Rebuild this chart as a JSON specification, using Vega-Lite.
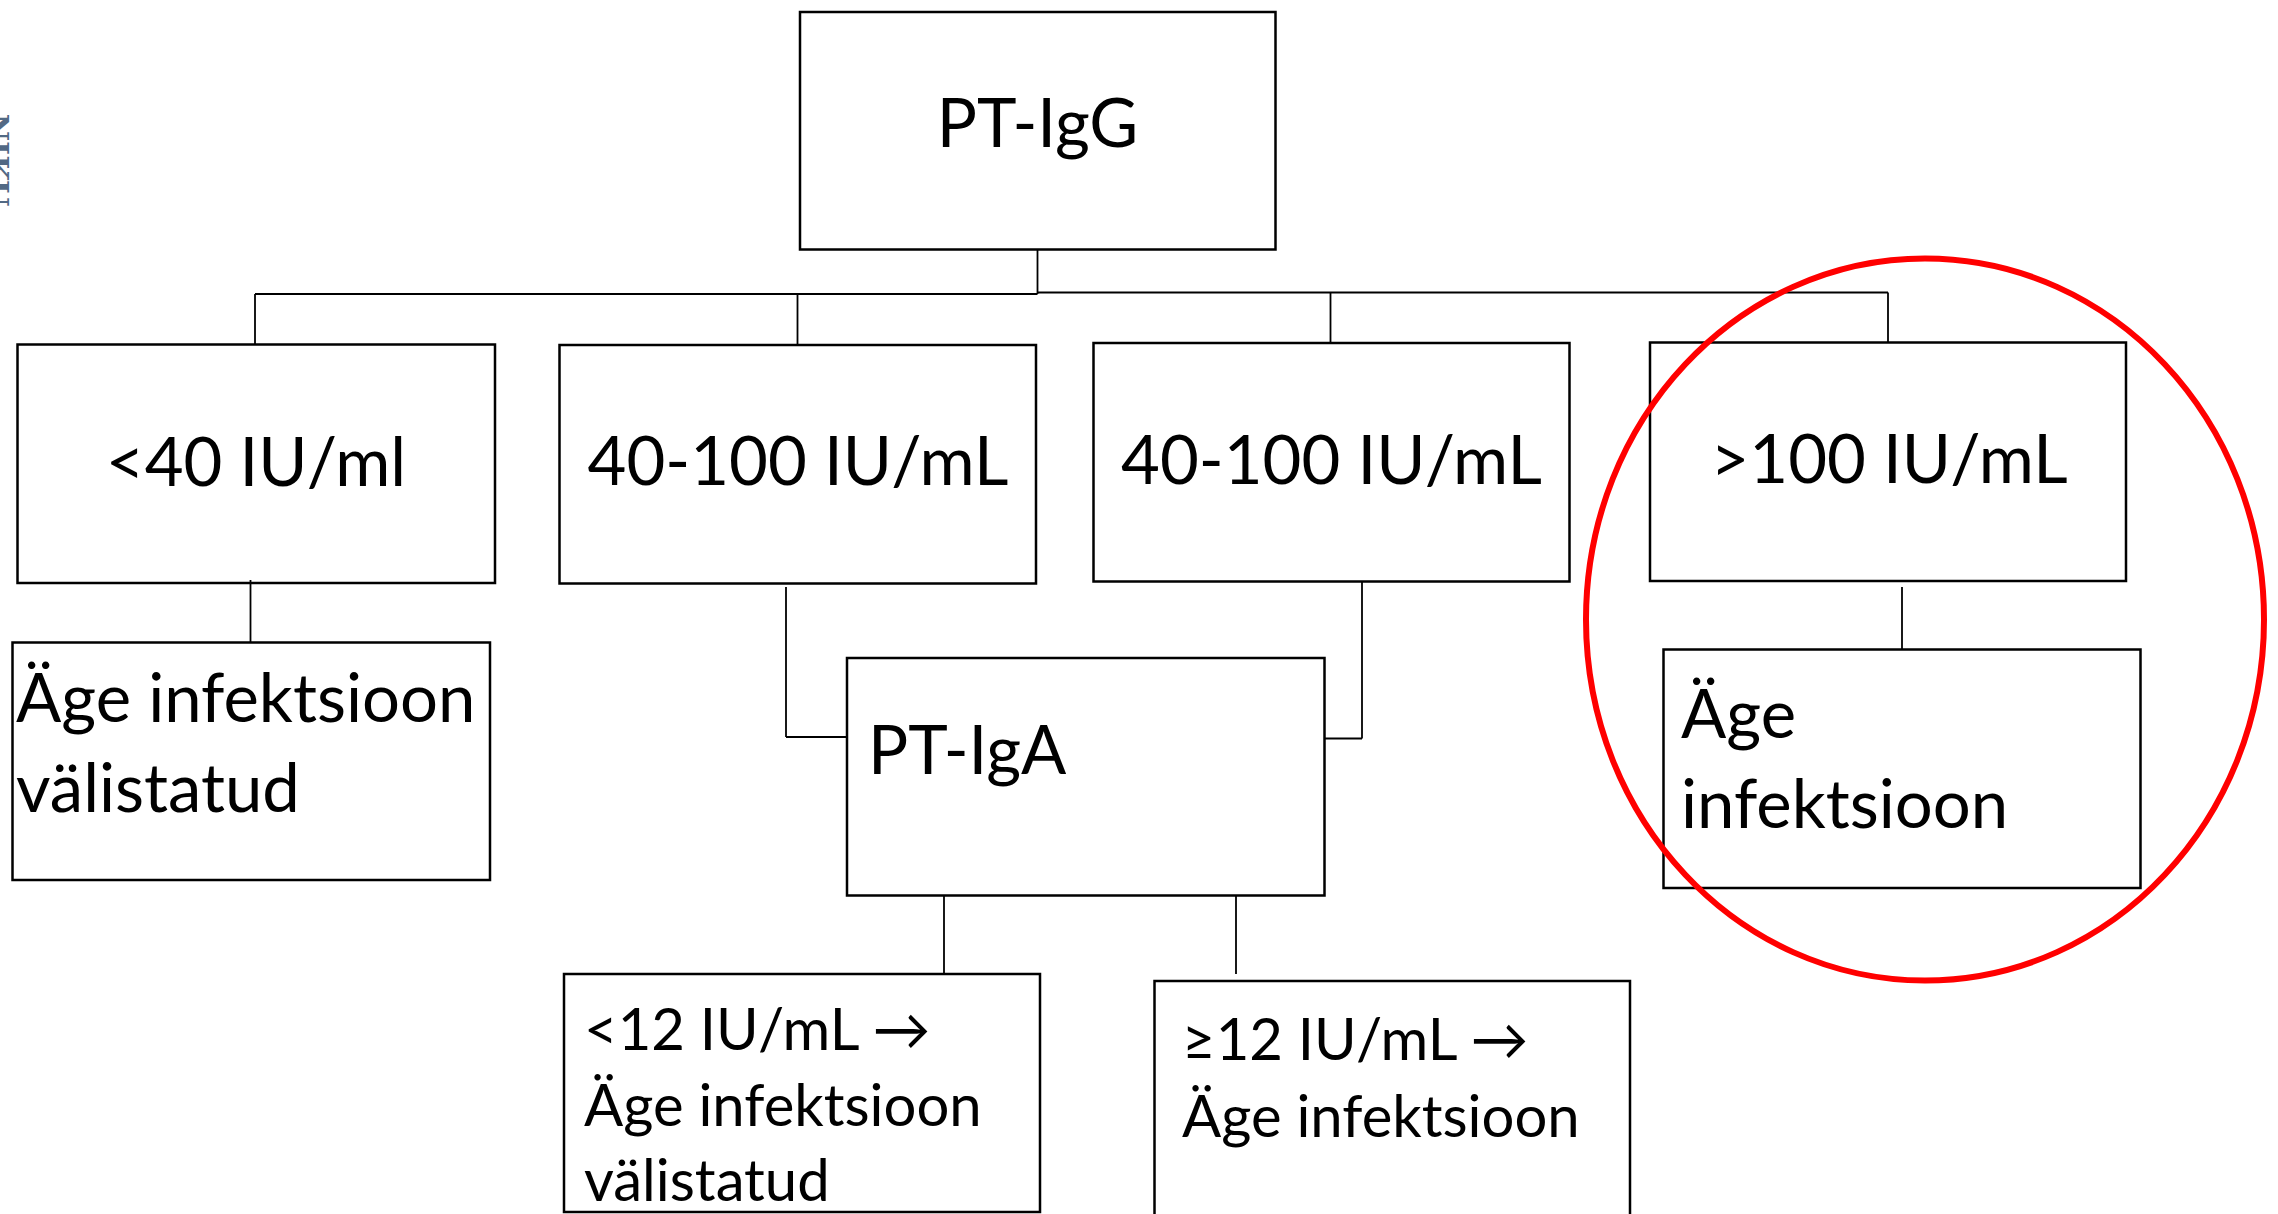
{
  "$schema": "https://vega.github.io/schema/vega-lite/v6.json",
  "width": 2278,
  "height": 1214,
  "padding": 0,
  "autosize": {"type": "none"},
  "background": "#ffffff",
  "config": {"view": {"stroke": null}},
  "datasets": {
    "boxes": [
      {"id": "PT-IgG", "x1": 800, "x2": 1275.5, "y1": 12, "y2": 249.5},
      {"id": "lt40", "x1": 17.5, "x2": 495, "y1": 344.5, "y2": 583},
      {"id": "40-100a", "x1": 559.5, "x2": 1036, "y1": 345, "y2": 583.5},
      {"id": "40-100b", "x1": 1093.5, "x2": 1569.5, "y1": 343, "y2": 581.5},
      {"id": "gt100", "x1": 1650, "x2": 2126, "y1": 342.5, "y2": 581},
      {"id": "excluded1", "x1": 12.5, "x2": 490, "y1": 642.5, "y2": 880},
      {"id": "PT-IgA", "x1": 847, "x2": 1324.5, "y1": 658, "y2": 895.5},
      {"id": "acute1", "x1": 1663.5, "x2": 2140.5, "y1": 649.5, "y2": 888},
      {"id": "lt12", "x1": 564, "x2": 1040, "y1": 974, "y2": 1212},
      {"id": "ge12", "x1": 1154.5, "x2": 1630, "y1": 981, "y2": 1260}
    ],
    "lines": [
      {"x1": 1037.5, "x2": 1037.5, "y1": 249.5, "y2": 294},
      {"x1": 255, "x2": 1037.5, "y1": 294, "y2": 294},
      {"x1": 1037.5, "x2": 1888, "y1": 292.5, "y2": 292.5},
      {"x1": 255, "x2": 255, "y1": 294, "y2": 344.5},
      {"x1": 797.5, "x2": 797.5, "y1": 294, "y2": 345},
      {"x1": 1330.5, "x2": 1330.5, "y1": 292.5, "y2": 343},
      {"x1": 1888, "x2": 1888, "y1": 292.5, "y2": 342.5},
      {"x1": 250.5, "x2": 250.5, "y1": 580, "y2": 642.5},
      {"x1": 786, "x2": 786, "y1": 587, "y2": 737},
      {"x1": 786, "x2": 847, "y1": 737, "y2": 737},
      {"x1": 1362, "x2": 1362, "y1": 581.5, "y2": 738.5},
      {"x1": 1324.5, "x2": 1362, "y1": 738.5, "y2": 738.5},
      {"x1": 944, "x2": 944, "y1": 895.5, "y2": 974},
      {"x1": 1236, "x2": 1236, "y1": 895.5, "y2": 974},
      {"x1": 1902, "x2": 1902, "y1": 587, "y2": 649.5}
    ],
    "centered": [
      {"t": "PT-IgG", "x": 1037.5, "y": 147},
      {"t": "<40 IU/ml", "x": 256, "y": 486},
      {"t": "40-100 IU/mL", "x": 798, "y": 484.5},
      {"t": "40-100 IU/mL", "x": 1331.5, "y": 483.5},
      {"t": ">100 IU/mL", "x": 1889, "y": 483}
    ],
    "leftBig": [
      {"t": "Äge infektsioon", "x": 16, "y": 722},
      {"t": "välistatud", "x": 16, "y": 812},
      {"t": "PT-IgA", "x": 868, "y": 773.5},
      {"t": "Äge", "x": 1681, "y": 737.5},
      {"t": "infektsioon", "x": 1681, "y": 827.5}
    ],
    "leftSmall": [
      {"t": "<12 IU/mL →", "x": 584, "y": 1050},
      {"t": "Äge infektsioon", "x": 584, "y": 1126},
      {"t": "välistatud", "x": 584, "y": 1201},
      {"t": "≥12 IU/mL →", "x": 1182, "y": 1060},
      {"t": "Äge infektsioon", "x": 1182, "y": 1136.5}
    ],
    "highlight": [{"x": 1925, "y": 619.5}],
    "logo": [{"t": "NIKU", "x": -4, "y": 160}]
  },
  "layer": [
    {
      "data": {"name": "boxes"},
      "mark": {"type": "rect", "fill": "#ffffff", "stroke": "#000000", "strokeWidth": 2.5, "clip": true},
      "encoding": {
        "x": {"field": "x1", "type": "quantitative", "scale": {"domain": [0, 2278], "nice": false, "zero": false}, "axis": null},
        "x2": {"field": "x2"},
        "y": {"field": "y1", "type": "quantitative", "scale": {"domain": [0, 1214], "nice": false, "zero": false, "reverse": true}, "axis": null},
        "y2": {"field": "y2"}
      }
    },
    {
      "data": {"name": "lines"},
      "mark": {"type": "rule", "color": "#000000", "strokeWidth": 1.8},
      "encoding": {
        "x": {"field": "x1", "type": "quantitative"},
        "x2": {"field": "x2"},
        "y": {"field": "y1", "type": "quantitative"},
        "y2": {"field": "y2"}
      }
    },
    {
      "data": {"name": "centered"},
      "mark": {"type": "text", "font": "Lato", "fontSize": 67, "align": "center", "baseline": "alphabetic", "color": "#000000"},
      "encoding": {
        "x": {"field": "x", "type": "quantitative"},
        "y": {"field": "y", "type": "quantitative"},
        "text": {"field": "t", "type": "nominal"}
      }
    },
    {
      "data": {"name": "leftBig"},
      "mark": {"type": "text", "font": "Lato", "fontSize": 67, "align": "left", "baseline": "alphabetic", "color": "#000000"},
      "encoding": {
        "x": {"field": "x", "type": "quantitative"},
        "y": {"field": "y", "type": "quantitative"},
        "text": {"field": "t", "type": "nominal"}
      }
    },
    {
      "data": {"name": "leftSmall"},
      "mark": {"type": "text", "font": "Lato", "fontSize": 58, "align": "left", "baseline": "alphabetic", "color": "#000000"},
      "encoding": {
        "x": {"field": "x", "type": "quantitative"},
        "y": {"field": "y", "type": "quantitative"},
        "text": {"field": "t", "type": "nominal"}
      }
    },
    {
      "data": {"name": "highlight"},
      "mark": {"type": "point", "filled": false, "color": "#ff0000", "opacity": 1, "strokeWidth": 6, "size": 640000,
        "shape": "M 0.8475 0 C 0.8475 0.4984 0.4681 0.9025 0 0.9025 C -0.4681 0.9025 -0.8475 0.4984 -0.8475 0 C -0.8475 -0.4984 -0.4681 -0.9025 0 -0.9025 C 0.4681 -0.9025 0.8475 -0.4984 0.8475 0 Z"},
      "encoding": {
        "x": {"field": "x", "type": "quantitative"},
        "y": {"field": "y", "type": "quantitative"}
      }
    },
    {
      "data": {"name": "logo"},
      "mark": {"type": "text", "font": "DejaVu Serif", "fontSize": 30, "fontWeight": "bold", "angle": 90, "align": "center", "baseline": "middle", "color": "#34506f", "opacity": 0.85},
      "encoding": {
        "x": {"field": "x", "type": "quantitative"},
        "y": {"field": "y", "type": "quantitative"},
        "text": {"field": "t", "type": "nominal"}
      }
    }
  ]
}
